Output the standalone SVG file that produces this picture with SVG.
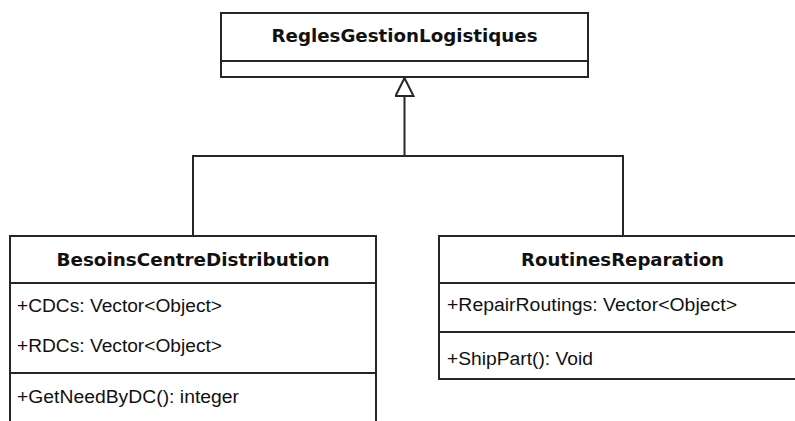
<svg xmlns="http://www.w3.org/2000/svg" width="795" height="421" viewBox="0 0 795 421">
<defs>
<style>
.box{fill:#ffffff;stroke:#262626;stroke-width:2}
.sep{stroke:#262626;stroke-width:2}
.title{font-family:"DejaVu Sans",Verdana,sans-serif;font-weight:bold;font-size:18px;fill:#111;text-anchor:middle}
.attr{font-family:"Liberation Sans",Arial,sans-serif;font-size:18px;fill:#111}
.conn{fill:none;stroke:#262626;stroke-width:2}
</style>
<marker id="inherit" viewBox="0 0 20 20" refX="19" refY="10" markerWidth="20" markerHeight="20" markerUnits="userSpaceOnUse" orient="auto">
<path d="M1,1 L19,10 L1,19 Z" fill="#ffffff" stroke="#262626" stroke-width="2"/>
</marker>
</defs>
<rect width="795" height="421" fill="#ffffff"/>
<g id="connectors">
<path class="conn" d="M193,236 L193,156 L623,156 L623,236"/>
<path class="conn" d="M404.5,156 L404.5,78" marker-end="url(#inherit)"/>
</g>
<g id="ReglesGestionLogistiques">
<rect class="box" x="221" y="13" width="367" height="64"/>
<line class="sep" x1="221" y1="61" x2="588" y2="61"/>
<text class="title" x="404.5" y="42" textLength="266" lengthAdjust="spacingAndGlyphs">ReglesGestionLogistiques</text>
</g>
<g id="BesoinsCentreDistribution">
<path class="box" d="M10,425 L10,236 L376,236 L376,425"/>
<line class="sep" x1="10" y1="283" x2="376" y2="283"/>
<line class="sep" x1="10" y1="373" x2="376" y2="373"/>
<text class="title" x="193" y="266" textLength="273" lengthAdjust="spacingAndGlyphs">BesoinsCentreDistribution</text>
<text class="attr" x="17" y="312" textLength="205" lengthAdjust="spacingAndGlyphs">+CDCs: Vector&lt;Object&gt;</text>
<text class="attr" x="17" y="352" textLength="205" lengthAdjust="spacingAndGlyphs">+RDCs: Vector&lt;Object&gt;</text>
<text class="attr" x="17" y="403" textLength="222" lengthAdjust="spacingAndGlyphs">+GetNeedByDC(): integer</text>
</g>
<g id="RoutinesReparation">
<rect class="box" x="439" y="236" width="367" height="143"/>
<line class="sep" x1="439" y1="283" x2="806" y2="283"/>
<line class="sep" x1="439" y1="332" x2="806" y2="332"/>
<text class="title" x="622.5" y="266" textLength="203" lengthAdjust="spacingAndGlyphs">RoutinesReparation</text>
<text class="attr" x="447" y="311" textLength="290" lengthAdjust="spacingAndGlyphs">+RepairRoutings: Vector&lt;Object&gt;</text>
<text class="attr" x="447" y="365" textLength="146" lengthAdjust="spacingAndGlyphs">+ShipPart(): Void</text>
</g>
</svg>
